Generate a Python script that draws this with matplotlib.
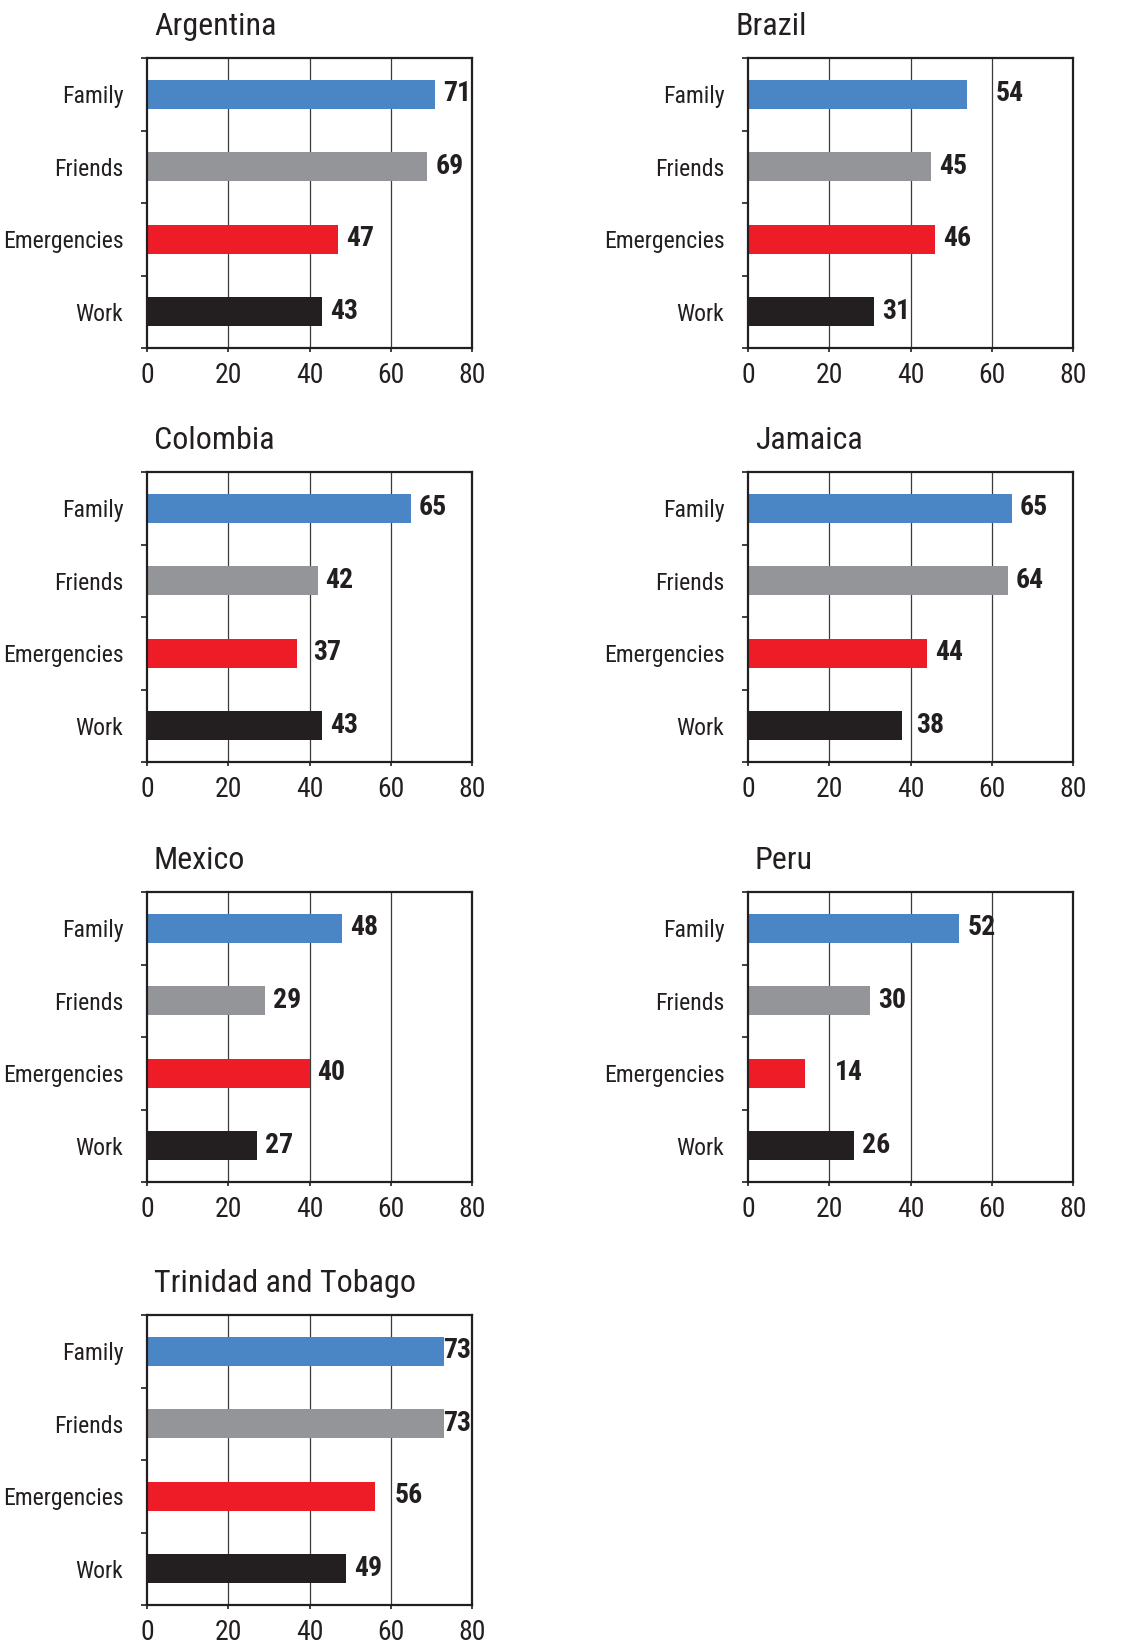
import matplotlib
matplotlib.use("Agg")
import matplotlib.pyplot as plt
from matplotlib import font_manager
from matplotlib.ticker import FixedLocator
import numpy as np

# =========================
# data
# =========================
categories = ["Family", "Friends", "Emergencies", "Work"]
countries = ["Argentina", "Brazil", "Colombia", "Jamaica", "Mexico", "Peru",
             "Trinidad and Tobago"]

argentina = [71, 69, 47, 43]
brazil = [54, 45, 46, 31]
colombia = [65, 42, 37, 43]
jamaica = [65, 64, 44, 38]
mexico = [48, 29, 40, 27]
peru = [52, 30, 14, 26]
trinidad = [73, 73, 56, 49]

values = [argentina, brazil, colombia, jamaica, mexico, peru, trinidad]

x_ticks = [0, 20, 40, 60, 80]

bar_colors = ["#4A86C6", "#939598", "#ED1C27", "#231F20"]
ink = "#231F20"

# =========================
# font: look for a narrow sans, else condensed DejaVu
# =========================
ttf = font_manager.fontManager.ttflist
names = {f.name for f in ttf}
FAM, STRETCH = None, "normal"
for cand in ["Liberation Sans Narrow", "Arial Narrow", "Roboto Condensed",
             "Open Sans Condensed", "Noto Sans Condensed",
             "Noto Sans SemiCondensed", "Archivo Narrow"]:
    if cand in names:
        FAM = cand
        break
if FAM is None:
    for fam in ["Noto Sans", "Roboto", "Open Sans", "Inter", "Lato"]:
        hits = [f for f in ttf if f.name == fam and str(f.stretch) in
                ("condensed", "extra-condensed", "semi-condensed", "75", "62", "87")]
        if hits:
            FAM, STRETCH = fam, "condensed"
            break
if FAM is None:
    FAM, STRETCH = "DejaVu Sans", "condensed"

plt.rcParams["font.family"] = [FAM, "DejaVu Sans"]
plt.rcParams["font.stretch"] = STRETCH

W, H = 1140, 1648
fig = plt.figure(figsize=(W / 100, H / 100), dpi=100)

# fit font sizes so text widths come close to the original's
renderer = fig.canvas.get_renderer()


def fit(txt, size, target_px, weight="normal", slack=1.06):
    t = fig.text(0, 0, txt, fontsize=size, fontweight=weight)
    w = t.get_window_extent(renderer).width
    t.remove()
    return min(size, size * target_px / w * slack)


fs_cat = fit("Emergencies", 20, 111, slack=1.09)
fs_title = fit("Argentina", 23, 109, slack=1.2)
fs_num = fit("71", 20, 23, "bold", slack=1.3)
fs_tick = fit("80", 20, 23, slack=1.25)

# panel placement in pixels (left, top)
col_left = [147, 748]
row_top = [58, 472, 892, 1315]
ax_w, ax_h = 325, 290

# small hand nudges (px) for value labels / titles as in the original
label_nudge = {(1, 0): 20, (2, 2): 8, (3, 3): 6, (5, 2): 22,
               (6, 0): -8, (6, 1): -8, (6, 2): 12}
title_nudge = {1: -20}

ypos = np.arange(len(categories))

for i, (country, vals) in enumerate(zip(countries, values)):
    left = col_left[i % 2]
    top = row_top[i // 2]
    ax = fig.add_axes([left / W, 1 - (top + ax_h) / H, ax_w / W, ax_h / H])

    ax.barh(ypos, vals, height=0.4, color=bar_colors, zorder=3)
    ax.set_xlim(0, 80)
    ax.set_ylim(3.5, -0.5)

    ax.set_xticks(x_ticks)
    ax.set_xticklabels([str(t) for t in x_ticks])
    ax.set_yticks(ypos)
    ax.set_yticklabels(categories)
    ax.yaxis.set_minor_locator(FixedLocator(np.arange(-0.5, 4, 1)))
    ax.tick_params(axis="y", which="major", length=0, pad=17,
                   labelsize=fs_cat, labelcolor=ink)
    ax.tick_params(axis="y", which="minor", length=4, width=1.2, color=ink)
    ax.tick_params(axis="x", which="major", length=3, width=1.2, color=ink,
                   pad=7, labelsize=fs_tick, labelcolor=ink)

    for xg in x_ticks[1:-1]:
        ax.axvline(xg, color="#3a3a3a", lw=0.9, zorder=1)

    for s in ax.spines.values():
        s.set_linewidth(1.6)
        s.set_color(ink)
        s.set_zorder(4)

    for j, v in enumerate(vals):
        dx = 8 + label_nudge.get((i, j), 0)
        ax.annotate(str(v), xy=(v, j), xytext=(dx * 0.72, 0.5),
                    textcoords="offset points", ha="left", va="center",
                    fontsize=fs_num, fontweight="bold", color=ink, zorder=5,
                    annotation_clip=False)

    tx = (left + 7 + title_nudge.get(i, 0)) / W
    ty = 1 - (top - 23) / H
    fig.text(tx, ty, country, fontsize=fs_title, color=ink, ha="left",
             va="baseline")

fig.savefig("out.png", dpi=100)
